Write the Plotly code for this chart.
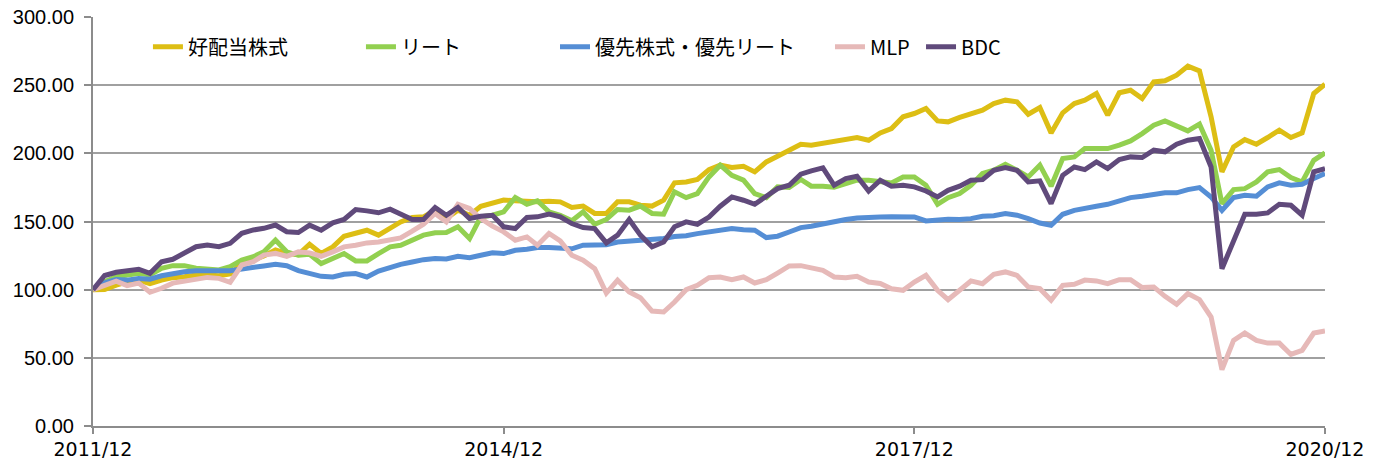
import pandas as pd
import plotly.graph_objects as go

months = pd.date_range("2011-12-01", periods=109, freq="MS")
tick_dates = ["2011-12-01", "2014-12-01", "2017-12-01", "2020-12-01"]
tick_labels = ["2011/12", "2014/12", "2017/12", "2020/12"]
y_ticks = [0, 50, 100, 150, 200, 250, 300]

names = ["好配当株式", "リート", "優先株式・優先リート", "MLP", "BDC"]
colors = ["#DDBE14", "#92D050", "#558ED5", "#E6B9B8", "#604A7B"]

high_dividend = [
    100, 100.2, 103.3, 105.8, 107, 104.5, 107, 108.8, 109.5, 110.8,
    110.8, 110.2, 111.5, 119.3, 121.8, 124.7, 129.1, 126.6, 125.7, 133.3,
    126.5, 131.4, 139.2, 141.2, 143.6, 140, 145.6, 149.7, 152.9, 153.4,
    158.3, 152.2, 158.3, 154.6, 161.2, 163.2, 165.7, 165.2, 164.4, 164.4,
    164.9, 164.4, 160.3, 161.3, 155.9, 155.9, 164.4, 164.4, 162, 161.3,
    165.7, 178.4, 179, 180.8, 188.1, 191.3, 189.6, 190.5, 186.4, 193.7,
    197.9, 201.8, 206.7, 206, 207.2, 208.9, 210.4, 211.6, 209.6, 215,
    218.2, 226.8, 229.2, 232.9, 223.8, 223.1, 226.3, 229.2, 231.6, 236.5,
    239, 237.8, 228.7, 233.6, 215, 229.7, 236.5, 239, 243.9, 228,
    244.4, 246.3, 240.2, 252.4, 253.2, 257.3, 264, 260.5, 226.8, 186.4,
    204.7, 210.1, 206.7, 211.6, 217, 211.6, 215, 243.9, 250.7,
]

reit = [
    100, 105.8, 109.5, 110.8, 112, 110.8, 115.7, 117.6, 117.6, 115.7,
    115.2, 114.5, 116.9, 121.8, 124.2, 127.8, 136.4, 127.8, 125.2, 126,
    119.1, 122.8, 126.5, 121.1, 121.1, 126.5, 131.4, 132.6, 136.8, 140,
    141.7, 141.9, 146.1, 137.5, 153.4, 154.6, 157.1, 167.6, 162.7, 165.2,
    157.1, 154.6, 150.5, 157.1, 148, 151.5, 158.8, 158.3, 161.3, 155.9,
    155.4, 171.8, 167.5, 170.5, 182.7, 191.3, 183.9, 180.3, 170.5, 167.5,
    175.4, 174.9, 180.8, 175.9, 175.9, 175.1, 177.8, 180.3, 180.3, 179,
    178.3, 182.7, 182.7, 176.6, 162.6, 167.5, 170.5, 176.6, 185.2, 187.6,
    192, 187.6, 182.7, 191.3, 175.9, 196.2, 197.4, 203.5, 203.5, 203.5,
    206, 209.1, 214.5, 220.6, 223.8, 219.9, 216.5, 221.4, 202.3, 163.1,
    173.4, 174.1, 179, 186.4, 188.1, 182.2, 179, 194.9, 200.3,
]

preferred = [
    100, 105, 107.4, 107, 108.2, 107.7, 110.2, 112, 113.2, 113.9,
    113.9, 113.9, 113.9, 115.2, 116, 117.4, 118.6, 117.6, 114, 112.3,
    109.8, 109.3, 111.3, 111.8, 109.3, 113.7, 116.7, 118.6, 120.3, 122,
    122.8, 122.5, 124.5, 123.5, 125.2, 127, 126.5, 128.9, 129.6, 130.9,
    130.9, 130.9, 130, 132.6, 132.6, 133, 135, 135.5, 136, 136.3,
    137.5, 139, 139.5, 141.1, 142.3, 144.3, 144.8, 144, 143.6, 138.2,
    139.2, 142.3, 145.5, 146.5, 148.4, 149.7, 151.4, 152.6, 153.3, 153.3,
    153.5, 153.8, 153.3, 150.4, 151.4, 151.6, 151.4, 152.1, 153.8, 154.3,
    155.8, 154.6, 152.1, 148.9, 147.2, 155.3, 158.2, 160, 161.2, 162.6,
    165.1, 167.5, 168.5, 169.7, 171, 171, 173.4, 174.9, 168, 158.2,
    167.5, 169.2, 168.5, 175.4, 178.3, 176.6, 177.3, 181.5, 185.2,
]

mlp = [
    100, 103.3, 106.3, 103, 104.8, 98.1, 101, 104.8, 106.3, 108.3,
    109, 108.3, 105.4, 118.1, 120.5, 125.4, 126.6, 124.5, 127.7, 127,
    124.5, 127.7, 131.4, 132.6, 134.3, 135, 136.3, 138, 142.9, 148,
    155.9, 149.7, 162.7, 159.5, 152.2, 146.6, 142.4, 136.3, 138.7, 132.6,
    141.2, 135.8, 125.2, 121.6, 115.4, 97.5, 106.9, 98.3, 94.1, 84.3,
    83.6, 90.9, 100, 103.2, 108.8, 109.3, 107.3, 109.3, 104.9, 107.3,
    112.2, 117.4, 117.6, 115.9, 114.2, 109.3, 108.8, 109.8, 105.6, 104.5,
    100.7, 99.5, 105.6, 110.5, 99.5, 92.7, 100, 106.4, 104.4, 111.3,
    113, 110.5, 102, 100.7, 92.2, 103.2, 103.9, 107, 106.4, 104.4,
    107.3, 107.3, 101.5, 102, 95.1, 89.2, 97.1, 92.7, 79.9, 41.3,
    62.8, 68.2, 62.8, 60.8, 60.8, 52.5, 55.5, 68.2, 69.7,
]

bdc = [
    100, 110.4, 112.8, 113.5, 115, 112, 120.5, 122.3, 127, 131.5,
    132.7, 131.5, 134, 141.3, 143.8, 145, 147.4, 142.5, 141.9, 147.3,
    143.6, 149, 151.5, 158.8, 157.8, 156.4, 159, 155.4, 151.5, 151.5,
    160.3, 154.6, 160.3, 152.2, 153.9, 154.6, 146.1, 144.8, 152.9, 153.4,
    155.4, 153.4, 148.5, 145.6, 144.8, 134.3, 140, 151.5, 140, 131.4,
    135, 146.1, 149.7, 148, 153.3, 161.2, 168, 165.6, 162.6, 168.5,
    174.1, 176.6, 184.7, 187.1, 189.3, 176.6, 181.5, 183.2, 172.4, 180.3,
    175.9, 176.6, 175.4, 172.4, 168, 172.9, 175.9, 180.3, 180.7, 187.6,
    189.6, 187.6, 179, 179.8, 163.1, 183.9, 190, 188.1, 193.7, 188.8,
    195.4, 197.4, 196.9, 202.3, 201.1, 206.7, 209.6, 210.8, 190, 115.4,
    136.2, 155.3, 155.3, 156.3, 162.6, 161.9, 154.6, 186.4, 188.8,
]

series = [high_dividend, reit, preferred, mlp, bdc]

# legend anchor positions (paper fraction of plot width)
legend_x = [0.0446, 0.2175, 0.375, 0.5982, 0.6721]
legend_ids = ["legend", "legend2", "legend3", "legend4", "legend5"]

CJK = "Noto Sans CJK JP"

fig = go.Figure()
for name, vals, col, lid in zip(names, series, colors, legend_ids):
    fig.add_trace(go.Scatter(
        x=months, y=vals, mode="lines", name=name,
        line=dict(color=col, width=5),
        legend=lid,
    ))

layout_legends = {}
for lid, lx in zip(legend_ids, legend_x):
    layout_legends[lid] = dict(
        x=lx, y=0.927, xanchor="left", yanchor="middle",
        orientation="h", bgcolor="rgba(0,0,0,0)",
        font=dict(family=CJK, size=20, color="#000000"),
        itemwidth=30, tracegroupgap=0,
    )

fig.update_layout(
    width=1380, height=462,
    margin=dict(l=93, r=55, t=17, b=36, autoexpand=False),
    paper_bgcolor="white", plot_bgcolor="white",
    showlegend=True,
    **layout_legends,
)

fig.update_xaxes(
    range=[months[0], months[-1]],
    tickvals=tick_dates, ticktext=tick_labels,
    tickfont=dict(family="DejaVu Sans", size=19, color="#000000"),
    showgrid=False, zeroline=False, automargin=False,
    showline=True, linecolor="#8c8c8c", linewidth=2,
    ticks="outside", ticklen=6, tickwidth=2, tickcolor="#8c8c8c",
    ticklabelstandoff=-1,
)
fig.update_yaxes(
    range=[0, 300], tickvals=y_ticks, tickformat=".2f",
    tickfont=dict(family="Liberation Sans, Arial", size=20, color="#000000"),
    showgrid=True, gridcolor="#a0a0a0", gridwidth=2,
    zeroline=False, automargin=False,
    showline=True, linecolor="#8c8c8c", linewidth=2,
    ticks="outside", ticklen=7, tickwidth=2, tickcolor="#8c8c8c",
    ticklabelstandoff=6,
)

fig.write_html(
    "out.html",
    config={"displayModeBar": False},
    post_script="document.body.style.margin='0';document.body.style.overflow='hidden';",
)
